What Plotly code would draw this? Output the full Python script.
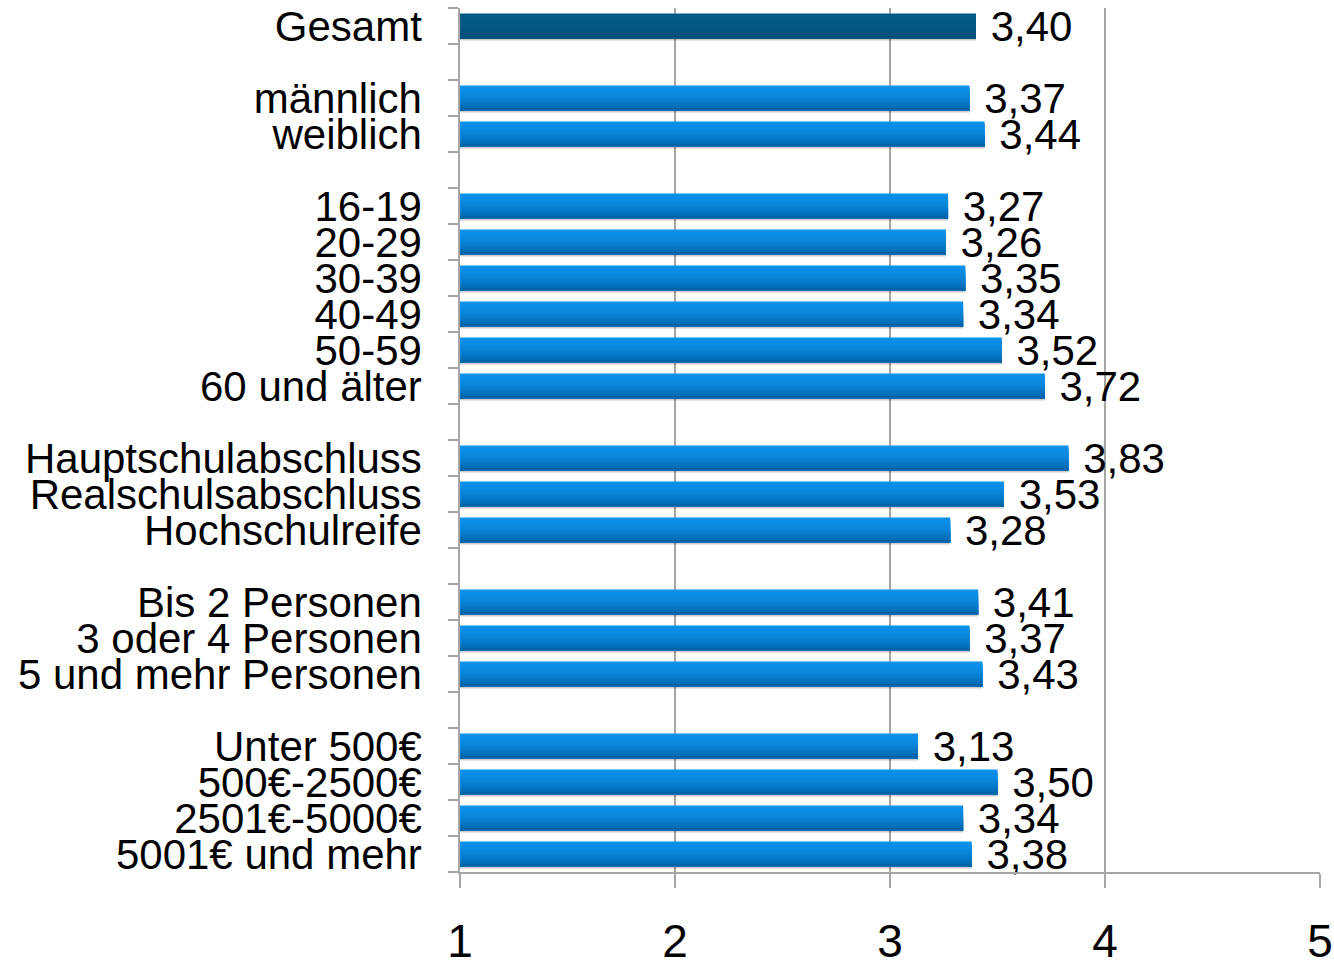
import plotly.graph_objects as go

categories = [
    "Gesamt", "", "männlich", "weiblich", "",
    "16-19", "20-29", "30-39", "40-49", "50-59", "60 und älter", "",
    "Hauptschulabschluss", "Realschulsabschluss", "Hochschulreife", "",
    "Bis 2 Personen", "3 oder 4 Personen", "5 und mehr Personen", "",
    "Unter 500€", "500€-2500€", "2501€-5000€", "5001€ und mehr",
]
values = [
    3.40, None, 3.37, 3.44, None,
    3.27, 3.26, 3.35, 3.34, 3.52, 3.72, None,
    3.83, 3.53, 3.28, None,
    3.41, 3.37, 3.43, None,
    3.13, 3.50, 3.34, 3.38,
]
x_ticks = [1, 2, 3, 4, 5]
AXIS_START = 1

# unique keys for blank slots (zero-width spaces)
keys = []
blank = 0
for c in categories:
    if c == "":
        blank += 1
        keys.append("\u200b" * blank)
    else:
        keys.append(c)

lengths = [None if v is None else v - AXIS_START for v in values]

BAR_W = 0.70
N_BANDS = 10
top_blue = (12, 143, 232)
bot_blue = (0, 100, 170)
top_dark = (3, 90, 135)
bot_dark = (2, 80, 122)


def mix(a, b, t):
    return "rgb(%d,%d,%d)" % tuple(round(a[i] + (b[i] - a[i]) * t) for i in range(3))


fig = go.Figure()

# soft shadow below each bar
for dy, alpha in [(0.075, 0.05), (0.05, 0.08), (0.03, 0.11)]:
    fig.add_trace(go.Bar(
        x=lengths, y=keys, orientation="h", base=AXIS_START,
        offset=-BAR_W / 2 + dy, width=BAR_W,
        marker=dict(color="rgba(0,0,0,%.2f)" % alpha, line=dict(width=0)),
        hoverinfo="skip", showlegend=False,
    ))

# gradient: each band covers from its top edge to the bar bottom (overlapping, no seams)
band_h = BAR_W / N_BANDS
for b in range(N_BANDS):
    t = b / (N_BANDS - 1)
    tt = t ** 1.8
    colors = [mix(top_dark, bot_dark, tt) if c == "Gesamt" else mix(top_blue, bot_blue, tt)
              for c in categories]
    fig.add_trace(go.Bar(
        x=lengths, y=keys, orientation="h", base=AXIS_START,
        offset=-BAR_W / 2 + b * band_h, width=BAR_W - b * band_h,
        marker=dict(color=colors, line=dict(width=0)),
        hoverinfo="skip", showlegend=False,
    ))

# value labels
fig.add_trace(go.Bar(
    x=lengths, y=keys, orientation="h", base=AXIS_START,
    offset=-BAR_W / 2, width=BAR_W,
    marker=dict(color="rgba(0,0,0,0)", line=dict(width=0)),
    text=[None if v is None else ("\u00a0" + f"{v:.2f}".replace(".", ",")) for v in values],
    textposition="outside", constraintext="none", cliponaxis=False,
    textfont=dict(family="Liberation Sans, Arial, sans-serif", size=42, color="black"),
    hoverinfo="skip", showlegend=False,
))

fig.update_layout(
    width=1334, height=961,
    margin=dict(l=460, r=14, t=8, b=89),
    barmode="overlay",
    plot_bgcolor="white", paper_bgcolor="white",
    font=dict(family="Liberation Sans, Arial, sans-serif", color="black"),
    separators=",.",
)
fig.update_xaxes(
    range=[1, 5], tickvals=x_ticks, ticktext=[str(v) for v in x_ticks],
    showgrid=True, gridcolor="#a6a6a6", gridwidth=1.5,
    showline=True, linecolor="#a6a6a6", linewidth=1.5,
    ticks="outside", ticklen=14, tickcolor="#a6a6a6", tickwidth=1.5,
    ticklabelstandoff=14,
    tickfont=dict(family="Liberation Sans Narrow, Arial Narrow, Liberation Sans, sans-serif", size=46),
    zeroline=False, fixedrange=True, automargin=False,
)
fig.update_yaxes(
    type="category", categoryorder="array", categoryarray=keys,
    tickmode="array", tickvals=keys, ticktext=categories,
    autorange="reversed",
    showgrid=False, showline=True, linecolor="#a6a6a6", linewidth=1.5,
    ticks="outside", ticklen=10, tickcolor="#a6a6a6", tickwidth=1.5,
    tickson="boundaries",
    ticklabelstandoff=28,
    tickfont=dict(size=42),
    fixedrange=True, automargin=False,
)

page_js = (
    "document.body.style.margin='0';"
    "document.body.style.overflow='hidden';"
    "document.documentElement.style.overflow='hidden';"
)
fig.write_html("out.html", post_script=page_js, config={"displayModeBar": False})
